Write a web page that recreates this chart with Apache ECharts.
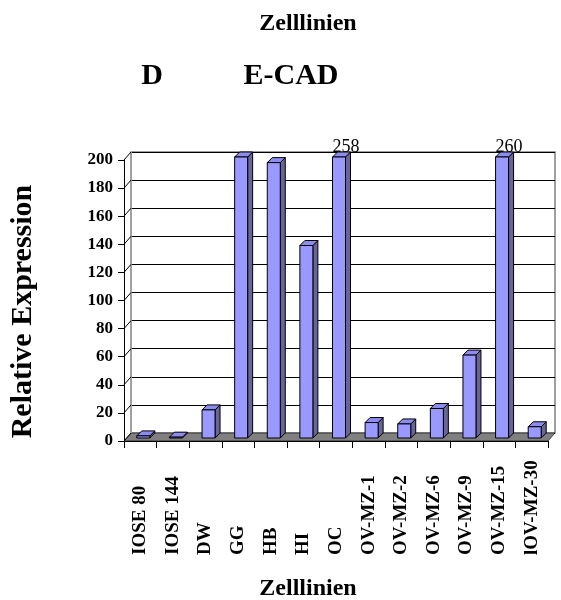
<!DOCTYPE html>
<html><head><meta charset="utf-8">
<script src="https://cdn.jsdelivr.net/npm/echarts@6/dist/echarts.min.js"></script>
<style>html,body{margin:0;padding:0;background:#fff}#c{width:561px;height:600px}</style>
</head><body><div id="c"></div>
<script>
const categories = ['IOSE 80','IOSE 144','DW','GG','HB','HI','OC','OV-MZ-1','OV-MZ-2','OV-MZ-6','OV-MZ-9','OV-MZ-15','lOV-MZ-30'];
const values = [1.5, 0.6, 20, 200, 196, 137, 258, 11, 10, 21, 59, 260, 8];
const yTicks = [0,20,40,60,80,100,120,140,160,180,200];
const yMax = 200;

const FONT = '"Liberation Serif","Times New Roman",serif';
const DX = 7, DY = 8;

const chart = echarts.init(document.getElementById('c'), null, {renderer:'canvas'});
chart.setOption({
  animation:false,
  backgroundColor:'#fff',
  title:[
    {text:'Zelllinien', left:303, top:7, textAlign:'center', textStyle:{fontFamily:FONT,fontWeight:'bold',fontSize:24,color:'#000'}},
    {text:'D', left:147, top:56, textAlign:'center', textStyle:{fontFamily:FONT,fontWeight:'bold',fontSize:30,color:'#000'}},
    {text:'E-CAD', left:286, top:56, textAlign:'center', textStyle:{fontFamily:FONT,fontWeight:'bold',fontSize:30,color:'#000'}},
    {text:'Zelllinien', left:303, top:572, textAlign:'center', textStyle:{fontFamily:FONT,fontWeight:'bold',fontSize:24,color:'#000'}}
  ],
  grid:[
    {left:124, right:13, top:160, bottom:159, show:false},
    {left:124+DX, right:13-DX, top:160-DY, bottom:159+DY, show:true, borderColor:'#808080', borderWidth:1.5, backgroundColor:'#fff', z:0}
  ],
  xAxis:[
    {type:'category', gridIndex:0, data:categories,
     axisLine:{show:true, lineStyle:{color:'#000',width:1}},
     axisTick:{show:true, length:7, lineStyle:{color:'#000'}},
     axisLabel:{rotate:90, align:'left', verticalAlign:'middle', margin:114, interval:0,
       fontFamily:FONT, fontWeight:'bold', fontSize:19, color:'#000'},
     z:5},
    {type:'category', gridIndex:1, data:categories, show:false}
  ],
  yAxis:[
    {type:'value', gridIndex:0, min:0, max:yMax, interval:20,
     name:'Relative Expression', nameLocation:'middle', nameGap:86, nameRotate:90,
     nameTextStyle:{fontFamily:FONT,fontWeight:'bold',fontSize:30,color:'#000', padding:[0,22,0,0]},
     axisLine:{show:true, lineStyle:{color:'#000'}},
     axisTick:{show:true, length:6, lineStyle:{color:'#000'}},
     axisLabel:{fontFamily:FONT, fontWeight:'bold', fontSize:17, color:'#000', margin:11,
       formatter:function(v){return yTicks.indexOf(v)>=0?String(v):'';}},
     splitLine:{show:false}, z:5},
    {type:'value', gridIndex:1, min:0, max:yMax, interval:20,
     axisLine:{show:false}, axisTick:{show:false}, axisLabel:{show:false},
     splitLine:{show:true, lineStyle:{color:'#000', width:1}}}
  ],
  series:[
    {type:'custom', xAxisIndex:0, yAxisIndex:0, z:1, silent:true,
     data:[[0,0]],
     renderItem:function(params, api){
       const cs = params.coordSys;
       const x = cs.x, y = cs.y, w = cs.width, h = cs.height;
       const ch = [];
       ch.push({type:'polygon', shape:{points:[[x,y+h],[x+w,y+h],[x+w+DX,y+h-DY],[x+DX,y+h-DY]]},
         style:{fill:'#808080', stroke:'#000', lineWidth:0.6}});
       ch.push({type:'line', shape:{x1:x+DX,y1:y-DY,x2:x+DX,y2:y+h-DY}, style:{stroke:'#a0a0a0', lineWidth:2}});
       yTicks.forEach(function(t){
         const p = api.coord([0,t]);
         ch.push({type:'line', shape:{x1:x,y1:p[1],x2:x+DX,y2:p[1]-DY}, style:{stroke:'#000', lineWidth:1}});
       });
       return {type:'group', children:ch};
     }},
    {type:'custom', xAxisIndex:0, yAxisIndex:0, z:3, silent:true,
     data:values.map(function(v,i){return [i,v];}),
     renderItem:function(params, api){
       const i = api.value(0), raw = api.value(1);
       const v = Math.min(raw, yMax);
       const base = api.coord([i,0]);
       const top = api.coord([i,v]);
       const bw = 13, dx = 5, dy = 5, sh = 3;
       const cx = base[0] + sh;
       const l = cx - bw/2, r = cx + bw/2;
       const yb = base[1] - 3, yt = Math.min(top[1] - 3, yb - 0.8);
       const ch = [
         {type:'polygon', shape:{points:[[r,yb],[r+dx,yb-dy],[r+dx,yt-dy],[r,yt]]}, style:{fill:'#666699', stroke:'#000', lineWidth:1}},
         {type:'polygon', shape:{points:[[l,yt],[l+dx,yt-dy],[r+dx,yt-dy],[r,yt]]}, style:{fill:'#8c8cf0', stroke:'#000', lineWidth:1}},
         {type:'rect', shape:{x:l, y:yt, width:bw, height:yb-yt}, style:{fill:'#9999ff', stroke:'#000', lineWidth:1}}
       ];
       if (raw > yMax) {
         ch.push({type:'text', style:{text:String(raw), x:cx+7, y:yt-dy+4, align:'center', verticalAlign:'bottom',
           font:'18px '+FONT, fill:'#000'}});
       }
       return {type:'group', children:ch};
     }}
  ]
});
</script></body></html>
